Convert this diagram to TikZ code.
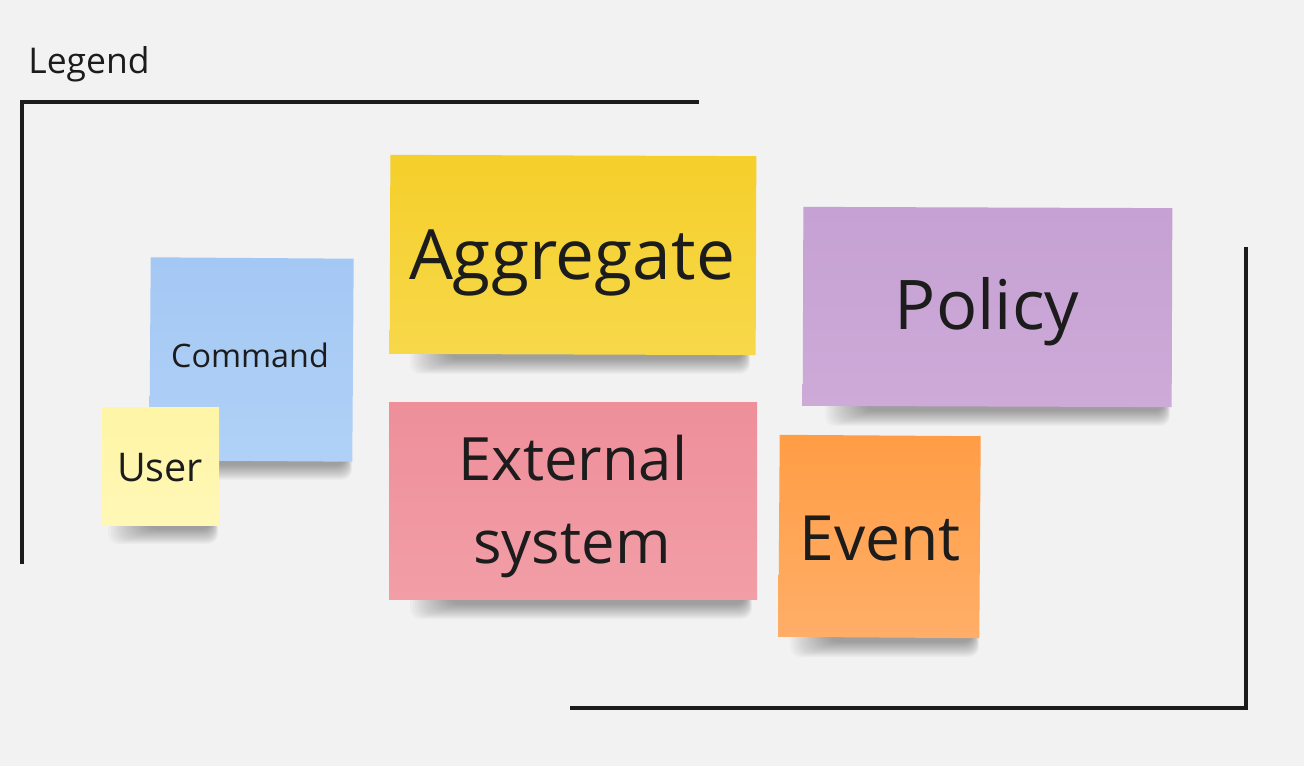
\documentclass[tikz,border=0pt]{standalone}
\usepackage{fontspec}
\setmainfont{Open Sans}
\usetikzlibrary{calc}
\def\pu{0.02cm}
\definecolor{bg}{HTML}{F2F2F2}
\definecolor{ink}{HTML}{1C1C1C}
\definecolor{cmdA}{HTML}{A4C8F4}\definecolor{cmdB}{HTML}{B0D1F7}
\definecolor{usrA}{HTML}{FFF5A6}\definecolor{usrB}{HTML}{FFF7B6}
\definecolor{aggA}{HTML}{F5CF2A}\definecolor{aggB}{HTML}{F7D84A}
\definecolor{polA}{HTML}{C6A1D3}\definecolor{polB}{HTML}{CDAAD8}
\definecolor{extA}{HTML}{EE8F9A}\definecolor{extB}{HTML}{F29EA7}
\definecolor{evtA}{HTML}{FF9D45}\definecolor{evtB}{HTML}{FFAE68}
\tikzset{
  note/.style={rectangle, inner sep=0pt, draw=none},
  lbl/.style={anchor=base, text=ink, inner sep=0pt},
  frame/.style={draw=ink, line width=3.5*\pu, line cap=rect},
  shlayer/.style={fill=black, opacity=0.024, rounded corners=10*\pu},
}
% soft shadow below a note: left x, right x, bottom y
\newcommand\noteshadow[3]{%
  \foreach \i in {0,...,15}{%
    \fill[shlayer] ({#1+\i*2.6},{#3-12}) rectangle ({#2-\i*0.4},{#3+19-\i*1.0});
  }%
}
\begin{document}
\begin{tikzpicture}[x=\pu, y=-\pu]
\fill[bg] (0,0) rectangle (1304,766);
\useasboundingbox (0,0) rectangle (1304,766);

% frame brackets
\coordinate (f1) at (697,102);
\coordinate (f2) at (22,102);
\coordinate (f3) at (22,562);
\draw[frame] (f1) -- (f2) -- (f3);
\coordinate (g1) at (1246,249);
\coordinate (g2) at (1246,708);
\coordinate (g3) at (572,708);
\draw[frame] (g1) -- (g2) -- (g3);

\node[lbl, anchor=base west] (legend) at (28,74) {\fontsize{20.2pt}{24pt}\selectfont Legend};

% shadows
\noteshadow{175}{352}{461}
\noteshadow{410}{750}{355}
\noteshadow{825}{1170}{407}
\noteshadow{410}{752}{600}
\noteshadow{790}{979}{638}
\noteshadow{108}{218}{525}

% notes
\node[note, minimum width=203*\pu, minimum height=203*\pu, top color=cmdA, bottom color=cmdB, rotate=-0.4] (cmd) at (251.5,359.5) {};
\node[note, minimum width=117*\pu, minimum height=117*\pu, top color=usrA, bottom color=usrB] (usr) at (160.5,466.5) {};
\node[note, minimum width=366*\pu, minimum height=199*\pu, top color=aggA, bottom color=aggB, rotate=-0.2] (agg) at (573,255) {};
\node[note, minimum width=369*\pu, minimum height=199*\pu, top color=polA, bottom color=polB, rotate=-0.2] (pol) at (987.5,307) {};
\node[note, minimum width=368*\pu, minimum height=197*\pu, top color=extA, bottom color=extB] (ext) at (573,501) {};
\node[note, minimum width=201*\pu, minimum height=202*\pu, top color=evtA, bottom color=evtB, rotate=-0.4] (evt) at (879.5,536.5) {};

% labels
\node[lbl] (cmdT) at (250,368) {\fontsize{18.4pt}{22pt}\selectfont Command};
\node[lbl] (usrT) at (160,481) {\fontsize{22.5pt}{26pt}\selectfont User};
\node[lbl] (aggT) at (572,280) {\fontsize{39.5pt}{46pt}\selectfont Aggregate};
\node[lbl] (polT) at (987,330) {\fontsize{39pt}{46pt}\selectfont Policy};
\node[lbl] (extT1) at (573,480) {\fontsize{34pt}{40pt}\selectfont External};
\node[lbl] (extT2) at (572,563) {\fontsize{34pt}{40pt}\selectfont system};
\node[lbl] (evtT) at (880,560) {\fontsize{35.5pt}{40pt}\selectfont Event};
\end{tikzpicture}
\end{document}
